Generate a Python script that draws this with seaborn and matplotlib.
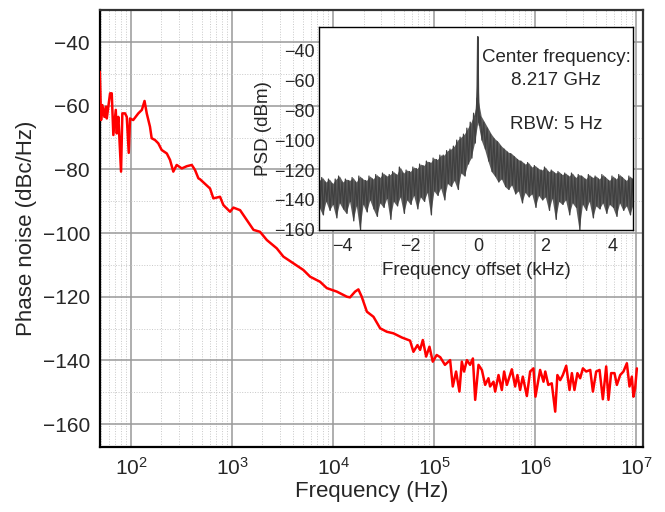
## Phase noise with inset spectrum
import numpy as np
import pandas as pd
import matplotlib
matplotlib.use("Agg")
import matplotlib.pyplot as plt
from matplotlib.ticker import LogLocator, MultipleLocator, NullFormatter
import seaborn as sns

##########################################################################
## 1. Data
##########################################################################

## main trace: offset frequency (Hz) and phase noise (dBc/Hz)
freq_hz = [
    49, 50.5, 52, 54.5, 56.5, 57.5, 62, 64.4, 66.8, 70.6,
    72.2, 74.9, 79.6, 82, 87.3, 90.7, 94.9, 97.7, 105, 118,
    128, 136, 143, 154, 160, 173, 186, 201, 226, 243,
    262, 283, 318, 356, 399, 430, 464, 482, 605, 653,
    760, 820, 955, 1030, 1200, 1400, 1630, 1890, 2210, 2770,
    3220, 4050, 5080, 5920, 7430, 8670, 10900, 13700, 14700, 16500,
    17800, 19200, 21600, 25100, 29200, 34000, 39600, 47900, 57800, 62400,
    68400, 72600, 77300, 83400, 89900, 97000, 106000, 115000, 128000, 144000,
    153000, 165000, 178000, 188000, 198000, 211000, 227000, 242000, 255000, 275000,
    297000, 320000, 345000, 358000, 387000, 402000, 434000, 468000, 493000, 525000,
    588000, 634000, 668000, 710000, 755000, 828000, 892000, 962000, 1.007e6, 1.12e6,
    1.21e6, 1.26e6, 1.35e6, 1.46e6, 1.58e6, 1.66e6, 1.77e6, 1.88e6, 2.03e6, 2.19e6,
    2.31e6, 2.45e6, 2.62e6, 2.79e6, 2.97e6, 3.20e6, 3.51e6, 3.73e6, 4.02e6, 4.34e6,
    4.68e6, 5.05e6, 5.32e6, 5.65e6, 6.10e6, 6.44e6, 6.95e6, 7.48e6, 8.09e6, 8.59e6,
    9.06e6, 9.40e6, 9.77e6, 1.016e7,
]
phase_noise = [
    -49.3, -64.5, -59.8, -63.5, -60.3, -64.0, -56.1, -56.1, -69.2, -61.3,
    -68.7, -63.5, -80.7, -62.4, -62.4, -63.5, -74.8, -64.0, -64.5, -62.4,
    -61.3, -58.5, -62.4, -66.6, -70.2, -70.8, -71.8, -73.9, -75.0, -77.0,
    -80.7, -78.6, -79.7, -79.0, -78.6, -80.2, -82.8, -83.1, -86.0, -89.1,
    -88.6, -91.2, -93.3, -92.0, -92.8, -95.9, -99.0, -99.6, -102.2, -104.8,
    -107.4, -109.5, -111.6, -113.7, -115.3, -117.3, -118.4, -120.0, -120.2, -118.4,
    -117.7, -120.0, -124.7, -126.3, -129.9, -131.0, -131.5, -132.8, -133.8, -137.3,
    -135.2, -136.7, -133.6, -138.8, -135.7, -140.4, -138.3, -139.0, -141.4, -139.9,
    -148.2, -143.5, -149.8, -140.4, -143.5, -139.9, -141.4, -139.4, -152.4, -141.4,
    -143.0, -147.7, -145.6, -148.2, -146.7, -149.8, -144.6, -149.3, -143.5, -147.7,
    -142.8, -148.2, -144.6, -149.3, -145.1, -151.2, -143.5, -142.5, -151.4, -143.0,
    -146.7, -143.5, -147.7, -147.2, -156.1, -144.6, -146.2, -144.6, -141.7, -149.3,
    -144.0, -149.3, -144.0, -145.6, -142.5, -143.5, -143.0, -149.8, -143.5, -143.0,
    -152.2, -141.9, -152.4, -144.0, -144.0, -147.7, -144.6, -143.5, -140.9, -148.2,
    -145.1, -151.4, -148.7, -142.5,
]

## inset spectrum: analyser bins (kHz) with the upper / lower edge of the noise
band_khz = [
    -4.7, -4.6, -4.5, -4.4, -4.3, -4.2, -4.1, -4.0, -3.9, -3.8,
    -3.7, -3.6, -3.5, -3.4, -3.3, -3.2, -3.1, -3.0, -2.9, -2.8,
    -2.7, -2.6, -2.5, -2.4, -2.3, -2.2, -2.1, -2.0, -1.9, -1.8,
    -1.7, -1.6, -1.5, -1.4, -1.3, -1.2, -1.1, -1.0, -0.9, -0.8,
    -0.7, -0.6, -0.5, -0.4, -0.3, -0.2, -0.1, 0.0, 0.1, 0.2,
    0.3, 0.4, 0.5, 0.6, 0.7, 0.8, 0.9, 1.0, 1.1, 1.2,
    1.3, 1.4, 1.5, 1.6, 1.7, 1.8, 1.9, 2.0, 2.1, 2.2,
    2.3, 2.4, 2.5, 2.6, 2.7, 2.8, 2.9, 3.0, 3.1, 3.2,
    3.3, 3.4, 3.5, 3.6, 3.7, 3.8, 3.9, 4.0, 4.1, 4.2,
    4.3, 4.4, 4.5, 4.6,
]
band_top = [
    -127, -125, -128, -126, -129, -126, -124, -128, -126, -127,
    -125, -128, -124, -126, -127, -124, -126, -123, -125, -122,
    -124, -123, -121, -123, -118, -122, -120, -121, -118, -119,
    -116, -117, -114, -115, -112, -113, -110, -110, -107, -106,
    -104, -100, -98, -96, -92, -88, -82, -72, -84, -88,
    -92, -96, -99, -101, -104, -106, -108, -109, -111, -113,
    -114, -116, -115, -118, -117, -119, -120, -118, -121, -120,
    -122, -121, -123, -122, -124, -122, -125, -123, -124, -126,
    -123, -125, -124, -126, -123, -125, -127, -124, -126, -123,
    -125, -127, -124, -126,
]
band_bottom = [
    -145, -150, -141, -147, -143, -152, -142, -146, -149, -141,
    -154, -144, -160, -143, -148, -140, -146, -151, -142, -145,
    -139, -153, -141, -144, -138, -149, -140, -143, -137, -146,
    -138, -141, -135, -150, -134, -137, -132, -140, -129, -131,
    -127, -133, -122, -124, -116, -112, -102, -88, -100, -106,
    -114, -121, -124, -128, -126, -131, -133, -130, -136, -134,
    -142, -135, -138, -136, -145, -137, -140, -138, -147, -139,
    -153, -141, -143, -140, -150, -142, -145, -160, -143, -147,
    -141, -152, -144, -146, -142, -149, -143, -145, -151, -142,
    -147, -144, -150, -143,
]

## carrier line at the centre of the inset
peak_khz = [-0.05, -0.03, -0.015, 0.0, 0.015, 0.03, 0.05]
peak_psd = [-84, -76, -64, -31, -68, -80, -90]

inset_note = "Center frequency:\n8.217 GHz\n\nRBW: 5 Hz"

##########################################################################
## 2. Style
##########################################################################

sns.set_style("white")
plt.rcParams["font.family"] = ["Liberation Sans", "DejaVu Sans"]
plt.rcParams["mathtext.fontset"] = "custom"
plt.rcParams["mathtext.rm"] = "Liberation Sans"
plt.rcParams["mathtext.it"] = "Liberation Sans:italic"

RED = "#ff0000"
DARK = "#404040"

##########################################################################
## 3. Main panel
##########################################################################

fig = plt.figure(figsize=(6.65, 5.12), dpi=100)
ax = fig.add_axes([0.150, 0.127, 0.817, 0.853])
ax.set_xscale("log")

main_df = pd.DataFrame({"freq": freq_hz, "pn": phase_noise})
sns.lineplot(data=main_df, x="freq", y="pn", ax=ax, color=RED,
             linewidth=1.8, sort=False, estimator=None, zorder=3)

ax.set_xlim(49, 1.17e7)
ax.set_ylim(-167.2, -30)
ax.set_yticks([-40, -60, -80, -100, -120, -140, -160])
ax.yaxis.set_minor_locator(MultipleLocator(10))
ax.xaxis.set_major_locator(LogLocator(base=10, numticks=20))
ax.xaxis.set_minor_locator(LogLocator(base=10, subs=np.arange(2, 10), numticks=20))
ax.xaxis.set_minor_formatter(NullFormatter())

ax.grid(which="major", color="#999999", linewidth=1.1, linestyle="-")
ax.grid(which="minor", color="#c8c8c8", linewidth=0.7, linestyle=":")
ax.set_axisbelow(True)

ax.tick_params(axis="both", which="both", length=0, labelsize=15, pad=7)
ax.set_xlabel("Frequency (Hz)", fontsize=16, labelpad=2)
ax.set_ylabel("Phase noise (dBc/Hz)", fontsize=16, labelpad=4)

for name, spine in ax.spines.items():
    spine.set_color("black" if name in ("left", "bottom") else "#333333")
    spine.set_linewidth(1.6)

##########################################################################
## 4. Inset spectrum
##########################################################################

axin = fig.add_axes([0.480, 0.551, 0.472, 0.396])
axin.set_facecolor("white")

## dense body of the noise band, then a zig-zag between the upper and lower
## edge of each bin for the spiky texture
axin.fill_between(band_khz, band_top, band_bottom, color=DARK, alpha=0.85, linewidth=0)
zig_x, zig_y = [], []
for k, t, b in zip(band_khz, band_top, band_bottom):
    zig_x += [k - 0.025, k + 0.025]
    zig_y += [t, b]
band_df = pd.DataFrame({"khz": zig_x, "psd": zig_y})
sns.lineplot(data=band_df, x="khz", y="psd", ax=axin, color=DARK,
             linewidth=0.9, sort=False, estimator=None)

peak_df = pd.DataFrame({"khz": peak_khz, "psd": peak_psd})
sns.lineplot(data=peak_df, x="khz", y="psd", ax=axin, color=DARK,
             linewidth=1.2, sort=False, estimator=None)

axin.set_xlim(-4.7, 4.6)
axin.set_ylim(-160, -24.5)
axin.set_xticks([-4, -2, 0, 2, 4])
axin.set_yticks([-40, -60, -80, -100, -120, -140, -160])
axin.tick_params(axis="x", length=0, labelsize=13, pad=6)
axin.tick_params(axis="y", length=0, labelsize=13, pad=3)
axin.set_xlabel("Frequency offset (kHz)", fontsize=13.5, labelpad=5)
axin.set_ylabel("PSD (dBm)", fontsize=13.5, labelpad=2)
for spine in axin.spines.values():
    spine.set_color("black")
    spine.set_linewidth(1.0)

axin.text(0.755, 0.89, inset_note, transform=axin.transAxes,
          ha="center", va="top", fontsize=13.5, linespacing=1.4)

fig.savefig("out.png", dpi=100)
plt.close(fig)
